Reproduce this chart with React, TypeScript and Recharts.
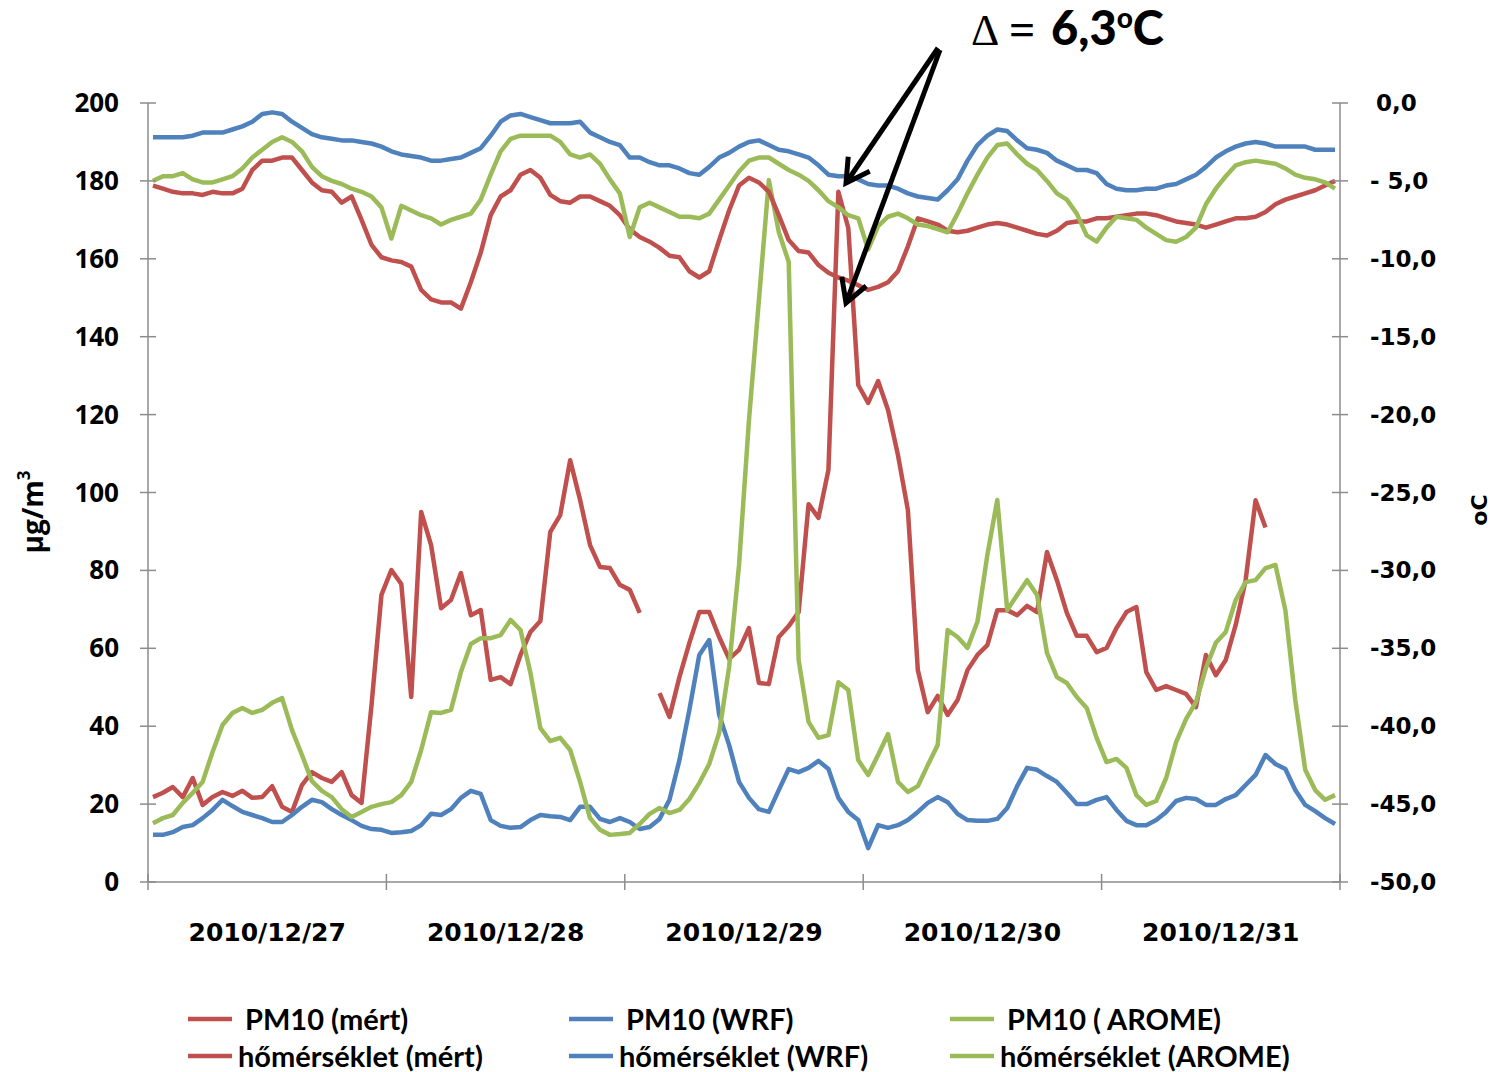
import React from 'react';
import { LineChart, Line, XAxis, YAxis } from 'recharts';

// hourly values, 2010/12/27 00h .. 2010/12/31 23h
const tempMert = [
  -5.3, -5.5, -5.7, -5.8, -5.8, -5.9, -5.7, -5.8, -5.8, -5.5,
  -4.3, -3.7, -3.7, -3.5, -3.5, -4.3, -5.1, -5.6, -5.7, -6.4,
  -6.0, -7.5, -9.1, -9.9, -10.1, -10.2, -10.5, -12.0, -12.6, -12.8,
  -12.8, -13.2, -11.5, -9.6, -7.2, -6.0, -5.6, -4.6, -4.3, -4.8,
  -5.9, -6.3, -6.4, -6.0, -6.0, -6.3, -6.6, -7.2, -8.1, -8.6,
  -8.9, -9.3, -9.8, -9.9, -10.8, -11.2, -10.8, -8.8, -6.9, -5.3,
  -4.8, -5.1, -5.7, -7.2, -8.8, -9.5, -9.6, -10.4, -10.9, -11.2,
  -11.4, -11.7, -12.0, -11.8, -11.5, -10.8, -9.2, -7.4, -7.6, -7.8,
  -8.2, -8.3, -8.2, -8.0, -7.8, -7.7, -7.8, -8.0, -8.2, -8.4,
  -8.5, -8.2, -7.7, -7.6, -7.6, -7.4, -7.4, -7.3, -7.2, -7.1,
  -7.1, -7.2, -7.4, -7.6, -7.7, -7.8, -8.0, -7.8, -7.6, -7.4,
  -7.4, -7.3, -7.0, -6.5, -6.2, -6.0, -5.8, -5.6, -5.3, -5.0,
];
const tempWrf = [
  -2.2, -2.2, -2.2, -2.2, -2.1, -1.9, -1.9, -1.9, -1.7, -1.5,
  -1.2, -0.7, -0.6, -0.7, -1.2, -1.6, -2.0, -2.2, -2.3, -2.4,
  -2.4, -2.5, -2.6, -2.8, -3.1, -3.3, -3.4, -3.5, -3.7, -3.7,
  -3.6, -3.5, -3.2, -2.9, -2.1, -1.2, -0.8, -0.7, -0.9, -1.1,
  -1.3, -1.3, -1.3, -1.2, -1.9, -2.2, -2.5, -2.7, -3.5, -3.5,
  -3.8, -4.0, -4.0, -4.2, -4.5, -4.6, -4.1, -3.5, -3.2, -2.8,
  -2.5, -2.4, -2.7, -3.0, -3.1, -3.3, -3.5, -4.0, -4.6, -4.7,
  -4.7, -4.9, -5.2, -5.3, -5.3, -5.5, -5.8, -6.0, -6.1, -6.2,
  -5.6, -4.9, -3.7, -2.7, -2.1, -1.7, -1.8, -2.4, -2.9, -3.0,
  -3.2, -3.7, -4.0, -4.3, -4.3, -4.5, -5.2, -5.5, -5.6, -5.6,
  -5.5, -5.5, -5.3, -5.2, -4.9, -4.6, -4.1, -3.5, -3.1, -2.8,
  -2.6, -2.5, -2.6, -2.8, -2.8, -2.8, -2.8, -3.0, -3.0, -3.0,
];
const tempArome = [
  -5.0, -4.7, -4.7, -4.5, -4.9, -5.1, -5.1, -4.9, -4.7, -4.2,
  -3.5, -3.0, -2.5, -2.2, -2.5, -3.1, -4.1, -4.7, -5.0, -5.2,
  -5.5, -5.7, -6.0, -6.7, -8.7, -6.6, -6.9, -7.2, -7.4, -7.8,
  -7.5, -7.3, -7.1, -6.2, -4.6, -3.1, -2.3, -2.1, -2.1, -2.1,
  -2.1, -2.5, -3.3, -3.5, -3.3, -3.9, -4.9, -5.8, -8.6, -6.7,
  -6.4, -6.7, -7.0, -7.3, -7.3, -7.4, -7.1, -6.2, -5.3, -4.4,
  -3.7, -3.5, -3.5, -3.9, -4.3, -4.6, -5.0, -5.6, -6.3, -6.7,
  -7.2, -7.4, -9.4, -7.9, -7.3, -7.1, -7.4, -7.8, -7.9, -8.1,
  -8.3, -7.1, -5.8, -4.6, -3.5, -2.7, -2.6, -3.3, -3.9, -4.3,
  -5.0, -5.8, -6.2, -7.1, -8.5, -8.9, -8.0, -7.3, -7.4, -7.5,
  -8.0, -8.4, -8.8, -8.9, -8.6, -8.0, -6.5, -5.5, -4.7, -4.0,
  -3.8, -3.7, -3.8, -3.9, -4.2, -4.6, -4.8, -4.9, -5.1, -5.5,
];
const pmMert = [
  21.8, 22.9, 24.4, 21.8, 26.7, 19.8, 21.8, 23.1, 22.1, 23.4,
  21.6, 21.8, 24.6, 19.3, 18.0, 24.9, 28.2, 26.7, 25.7, 28.2,
  22.3, 20.3, 45.4, 73.7, 80.1, 76.5, 47.5, 95.0, 86.5, 70.3,
  72.4, 79.3, 68.5, 69.8, 51.9, 52.6, 50.8, 58.3, 64.2, 67.0,
  89.9, 94.2, 108.3, 98.1, 86.5, 80.9, 80.6, 76.3, 75.0, 69.1,
  null, 48.5, 42.4, 52.6, 61.4, 69.3, 69.3, 62.9, 57.3, 59.6,
  65.2, 51.1, 50.8, 62.9, 65.7, 69.3, 97.0, 93.5, 105.8, 177.2,
  167.9, 127.6, 123.0, 128.6, 121.2, 109.6, 95.5, 54.4, 43.6, 47.8,
  42.9, 46.7, 54.4, 58.3, 60.8, 69.8, 69.8, 68.5, 70.9, 69.3,
  84.7, 77.5, 69.1, 63.2, 63.2, 59.0, 60.1, 65.2, 69.3, 70.6,
  53.9, 49.3, 50.3, 49.3, 48.3, 44.9, 58.3, 53.1, 57.0, 66.0,
  77.5, 98.0, 91.0, null, null, null, null, null, null, null,
];
const pmWrf = [
  12.1, 12.1, 12.8, 14.1, 14.6, 16.4, 18.5, 21.1, 19.5, 18.0,
  17.2, 16.4, 15.4, 15.4, 17.2, 19.3, 21.1, 20.5, 18.7, 17.2,
  15.9, 14.4, 13.6, 13.4, 12.6, 12.8, 13.1, 14.6, 17.5, 17.2,
  18.7, 21.6, 23.4, 22.6, 15.9, 14.4, 13.9, 14.1, 15.9, 17.2,
  16.9, 16.7, 15.9, 19.3, 19.3, 16.2, 15.4, 16.4, 15.4, 13.6,
  14.1, 16.2, 21.1, 31.3, 44.2, 58.3, 62.1, 42.9, 35.2, 25.7,
  21.6, 18.7, 18.0, 23.6, 29.0, 28.2, 29.3, 31.1, 29.0, 21.6,
  18.0, 15.9, 8.7, 14.6, 13.9, 14.6, 15.9, 18.0, 20.3, 21.8,
  20.5, 17.5, 15.9, 15.7, 15.7, 16.2, 19.0, 24.6, 29.3, 28.8,
  27.2, 25.7, 22.9, 20.0, 20.0, 21.1, 21.8, 18.5, 15.7, 14.6,
  14.6, 15.9, 18.0, 20.8, 21.6, 21.3, 19.8, 19.8, 21.3, 22.3,
  24.9, 27.5, 32.6, 30.3, 29.0, 23.6, 19.8, 18.2, 16.4, 14.9,
];
const pmArome = [
  15.1, 16.4, 17.2, 20.3, 22.9, 25.7, 33.4, 40.3, 43.4, 44.7,
  43.4, 44.2, 46.0, 47.2, 39.0, 32.6, 25.9, 23.4, 21.8, 18.7,
  16.7, 18.0, 19.3, 20.0, 20.5, 22.3, 25.7, 33.9, 43.6, 43.4,
  44.2, 53.9, 61.1, 62.6, 62.6, 63.4, 67.3, 64.7, 53.7, 39.5,
  36.2, 37.0, 33.9, 25.7, 16.4, 13.4, 12.1, 12.3, 12.6, 14.9,
  17.5, 19.0, 17.7, 18.5, 21.3, 25.4, 30.3, 38.3, 55.2, 81.4,
  118.6, 149.4, 180.2, 166.9, 159.2, 57.0, 41.1, 37.0, 37.7, 51.3,
  49.3, 31.3, 27.5, 32.6, 38.0, 25.7, 23.1, 24.6, 30.0, 35.2,
  64.7, 62.9, 60.1, 66.8, 84.0, 98.1, 69.8, 73.7, 77.5, 73.7,
  58.8, 52.6, 51.1, 47.5, 44.7, 37.0, 30.8, 31.6, 29.3, 22.3,
  19.8, 20.8, 26.7, 35.9, 41.8, 46.2, 54.9, 61.4, 64.2, 72.4,
  77.0, 77.5, 80.6, 81.4, 69.8, 46.7, 28.8, 23.6, 21.1, 22.3,
];

const dayLabels = ['2010/12/27', '2010/12/28', '2010/12/29', '2010/12/30', '2010/12/31'];
const dayTicks = [0, 24, 48, 72, 96, 120];
const pmTicks = [0, 20, 40, 60, 80, 100, 120, 140, 160, 180, 200];
const tempTicks = [-50, -45, -40, -35, -30, -25, -20, -15, -10, -5, 0];
const legendLabels = [
  'PM10 (mért)', 'PM10 (WRF)', 'PM10 ( AROME)',
  'hőmérséklet (mért)', 'hőmérséklet (WRF)', 'hőmérséklet (AROME)',
];

const RED = '#C0504D';
const BLUE = '#4F81BD';
const GREEN = '#9BBB59';
const GREY = '#8c8c8c';
const COLORS = [RED, BLUE, GREEN];

const W = 1493;
const H = 1072;
const PLOT_L = 148;
const PLOT_R = 1340;
const PLOT_T = 103;
const PLOT_B = 882;
const DAY_PX = (PLOT_R - PLOT_L) / dayLabels.length;

const data = pmMert.map((_, i) => ({
  h: i + 0.5,
  pmMert: pmMert[i],
  pmWrf: pmWrf[i],
  pmArome: pmArome[i],
  tempMert: tempMert[i],
  tempWrf: tempWrf[i],
  tempArome: tempArome[i],
}));

const fmtTemp = (v: number) => {
  if (v === 0) return '0,0';
  if (v === -5) return '- 5,0';
  return v.toFixed(1).replace('.', ',');
};

function PmTick({ x, y, payload }: any) {
  return (
    <g>
      <line x1={x - 8} x2={x + 8} y1={y} y2={y} stroke={GREY} strokeWidth={1.5} />
      <text x={x - 29} y={y + 9} textAnchor="end" fontFamily="'Open Sans'" fontWeight={700} fontSize={26} fill="#000">
        {payload.value}
      </text>
    </g>
  );
}

function TempTick({ x, y, payload }: any) {
  // zero has no sign, so it sits a little further in
  const dx = payload.value === 0 ? 36 : 30;
  return (
    <g>
      <line x1={x - 8} x2={x + 8} y1={y} y2={y} stroke={GREY} strokeWidth={1.5} />
      <text x={x + dx} y={y + 8} textAnchor="start" fontFamily="'DejaVu Sans'" fontWeight={700} fontSize={23} fill="#000">
        {fmtTemp(payload.value)}
      </text>
    </g>
  );
}

function DayTick({ x, y, payload }: any) {
  const label = dayLabels[Math.round(payload.value / 24)];
  return (
    <g>
      <line x1={x} x2={x} y1={y - 8} y2={y + 8} stroke={GREY} strokeWidth={1.5} />
      {label && (
        <text x={x + DAY_PX / 2} y={y + 59} textAnchor="middle" fontFamily="'DejaVu Sans'" fontWeight={700} fontSize={25} fill="#000">
          {label}
        </text>
      )}
    </g>
  );
}

export default function App() {
  const lineProps = {
    dot: false,
    activeDot: false,
    strokeWidth: 4.5,
    strokeLinejoin: 'round' as const,
    isAnimationActive: false,
    connectNulls: false,
    type: 'linear' as const,
  };
  return (
    <div style={{ position: 'absolute', left: 0, top: 0, width: W, height: H, background: '#fff' }}>
      <LineChart width={W} height={H} data={data} margin={{ top: PLOT_T, right: 0, bottom: 0, left: 0 }}>
        <XAxis
          dataKey="h"
          type="number"
          domain={[0, 120]}
          ticks={dayTicks}
          height={H - PLOT_B}
          tickSize={0}
          tickMargin={0}
          tickLine={false}
          axisLine={{ stroke: GREY, strokeWidth: 1.5 }}
          tick={DayTick}
          interval={0}
        />
        <YAxis
          yAxisId="pm"
          domain={[0, 200]}
          ticks={pmTicks}
          width={PLOT_L}
          tickSize={0}
          tickMargin={0}
          tickLine={false}
          axisLine={{ stroke: GREY, strokeWidth: 1.5 }}
          tick={PmTick}
          interval={0}
        />
        <YAxis
          yAxisId="t"
          orientation="right"
          domain={[-50, 0]}
          ticks={tempTicks}
          width={W - PLOT_R}
          tickSize={0}
          tickMargin={0}
          tickLine={false}
          axisLine={{ stroke: GREY, strokeWidth: 1.5 }}
          tick={TempTick}
          interval={0}
        />
        <Line yAxisId="pm" dataKey="pmMert" stroke={RED} {...lineProps} />
        <Line yAxisId="pm" dataKey="pmWrf" stroke={BLUE} {...lineProps} />
        <Line yAxisId="pm" dataKey="pmArome" stroke={GREEN} {...lineProps} />
        <Line yAxisId="t" dataKey="tempMert" stroke={RED} {...lineProps} />
        <Line yAxisId="t" dataKey="tempWrf" stroke={BLUE} {...lineProps} />
        <Line yAxisId="t" dataKey="tempArome" stroke={GREEN} {...lineProps} />
      </LineChart>

      <svg width={W} height={H} style={{ position: 'absolute', left: 0, top: 0, pointerEvents: 'none' }}>
        <defs>
          <marker id="arrowhead" markerUnits="userSpaceOnUse" markerWidth={34} markerHeight={34} refX={26} refY={15} orient="auto" overflow="visible">
            <path d="M 3 2 L 26 15 L 3 28" fill="none" stroke="#000" strokeWidth={5} strokeLinejoin="miter" />
          </marker>
        </defs>
        {/* annotation */}
        <line x1={938} y1={48} x2={846} y2={183} stroke="#000" strokeWidth={5} markerEnd="url(#arrowhead)" />
        <line x1={940} y1={50} x2={846} y2={303} stroke="#000" strokeWidth={5} markerEnd="url(#arrowhead)" />
        <text x={971} y={45} fontFamily="'Liberation Serif'" fontSize={44} fill="#000">Δ</text>
        <text x={1009} y={45} fontFamily="'Liberation Serif'" fontWeight={700} fontSize={46} fill="#000">=</text>
        <text x={1051} y={45} fontFamily="Lato" fontWeight={900} fontSize={47} fill="#000">
          6,3<tspan fontSize={28} dy={-17}>o</tspan><tspan dy={17}>C</tspan>
        </text>

        {/* axis titles */}
        <text transform="translate(43,512) rotate(-90)" textAnchor="middle" fontFamily="'Open Sans'" fontWeight={700} fontSize={28} fill="#000">
          μg/m<tspan fontSize={17} dy={-13}>3</tspan>
        </text>
        <text transform="translate(1487,510) rotate(-90)" textAnchor="middle" fontFamily="'DejaVu Sans'" fontWeight={700} fontSize={22} fill="#000">
          oC
        </text>

        {/* legend */}
        {legendLabels.map((label, k) => {
          const col = k % 3;
          const row = Math.floor(k / 3);
          const x0 = 188 + col * 381;
          const ly = 1019 + row * 37;
          return (
            <g key={label}>
              <line x1={x0} x2={x0 + 44} y1={ly} y2={ly} stroke={COLORS[col]} strokeWidth={4.5} />
              <text x={x0 + (row === 0 ? 57 : 50)} y={ly + 11} fontFamily="Lato" fontWeight={700} fontSize={29} fill="#000">
                {label}
              </text>
            </g>
          );
        })}
      </svg>
    </div>
  );
}
